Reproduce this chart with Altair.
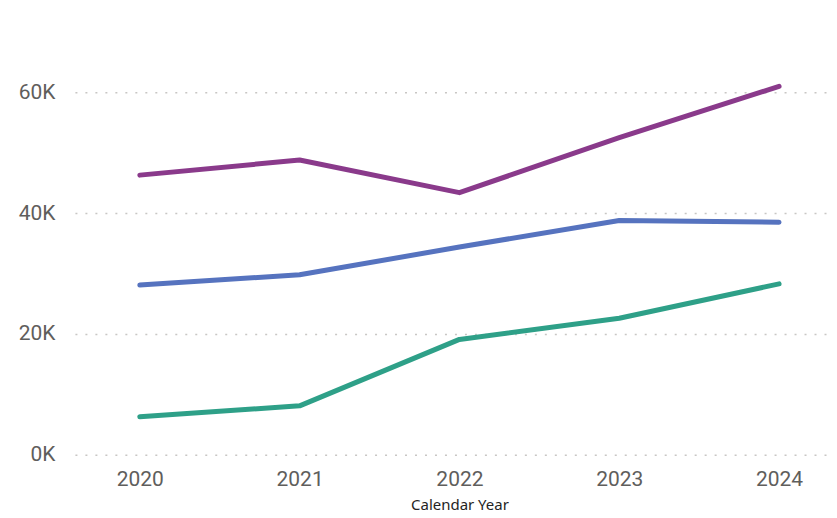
import altair as alt
import pandas as pd

years = [2020, 2021, 2022, 2023, 2024]
series_a = [46300, 48800, 43400, 52500, 61000]   # purple
series_b = [28100, 29800, 34400, 38800, 38500]   # blue
series_c = [6300, 8100, 19100, 22600, 28300]     # green
series_names = ["A", "B", "C"]
colors = ["#8A3A8B", "#5673BF", "#2EA088"]
y_ticks = [0, 20000, 40000, 60000]

rows = []
for name, vals in zip(series_names, [series_a, series_b, series_c]):
    for yr, v in zip(years, vals):
        rows.append({"Calendar Year": yr, "Value": v, "Series": name})
df = pd.DataFrame(rows)

chart = alt.Chart(df).mark_line(strokeWidth=5, strokeCap="round", strokeJoin="round").encode(
    x=alt.X("Calendar Year:Q",
            scale=alt.Scale(domain=[2019.594, 2024.3125], nice=False, zero=False),
            axis=alt.Axis(title="Calendar Year", values=years, format="d", labelAngle=0,
                          labelFont="Roboto", labelFontSize=21, labelColor="#5F5E5C",
                          labelPadding=14, labelFlush=False, labelOverlap=False,
                          titleFont="Noto Sans", titleFontSize=15, titleFontWeight="normal",
                          titleColor="#252423", titlePadding=8, titleX=385,
                          domain=False, ticks=False, grid=False)),
    y=alt.Y("Value:Q", scale=alt.Scale(domain=[0, 64000], nice=False),
            axis=alt.Axis(title=None, values=y_ticks, labelExpr="format(datum.value/1000, 'd') + 'K'",
                          labelFont="Roboto", labelFontSize=21, labelColor="#5F5E5C",
                          labelPadding=20, domain=False, ticks=False,
                          grid=True, gridColor="#C8C6C4", gridDash=[2, 8], gridWidth=1.5)),
    color=alt.Color("Series:N", scale=alt.Scale(domain=series_names, range=colors), legend=None),
).properties(
    width=755, height=387,
    autosize=alt.AutoSizeParams(type="none"),
    padding={"left": 67, "top": 60, "right": 0, "bottom": 60},
).configure_view(stroke=None)

chart.save("out.html", embed_options={"renderer": "svg", "actions": False})
